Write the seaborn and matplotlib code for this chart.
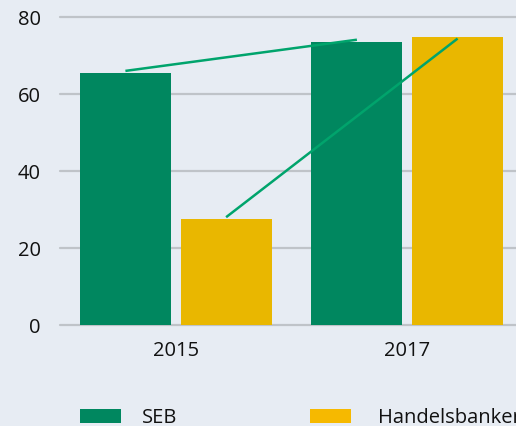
import matplotlib
matplotlib.use("Agg")
import matplotlib.pyplot as plt
from matplotlib.patches import Rectangle
import seaborn as sns
import pandas as pd

years = ["2015", "2017"]
banks = ["SEB", "Handelsbanken"]
seb_values = [65.5, 73.5]
hb_values = [27.6, 74.8]
seb_line = [66.0, 74.1]
hb_line = [28.0, 74.4]
y_ticks = [0, 20, 40, 60, 80]

colors = {"SEB": "#00875f", "Handelsbanken": "#e9b700"}
legend_colors = {"SEB": "#00875f", "Handelsbanken": "#f6b900"}
line_color = "#00a46c"
bg = "#e7ecf3"

sns.set_theme(style="white")
plt.rcParams["font.family"] = ["Open Sans", "DejaVu Sans"]

df = pd.DataFrame({
    "year": years * 2,
    "bank": [banks[0]] * 2 + [banks[1]] * 2,
    "value": seb_values + hb_values,
})

W, H = 516, 427
fig = plt.figure(figsize=(W / 100, H / 100), dpi=100, facecolor=bg)
ax = fig.add_axes([60 / W, (H - 326) / H, 463 / W, 308 / H])
ax.set_facecolor(bg)

sns.barplot(data=df, x="year", y="value", hue="bank", hue_order=banks,
            order=years, palette=colors, width=0.87, gap=0.095,
            saturation=1, ax=ax, legend=False, errorbar=None, linewidth=0)

# lines through bar centres
for cont, vals in zip(ax.containers, [seb_line, hb_line]):
    xs = [b.get_x() + b.get_width() / 2 for b in cont]
    ax.plot(xs, vals, color=line_color, lw=1.8, solid_capstyle="butt", zorder=5)

ax.set_xlim(-0.5, 1.5)
ax.set_ylim(0, 80)
ax.set_yticks(y_ticks)
ax.set_xlabel("")
ax.set_ylabel("")
for s in ax.spines.values():
    s.set_visible(False)
ax.set_axisbelow(True)
ax.yaxis.grid(True, color="#bfc3c8", lw=1.6)
for gl in ax.yaxis.get_gridlines():
    gl.set_clip_on(False)
ax.tick_params(axis="y", length=0, pad=14, labelsize=14.5, labelcolor="#111111")
ax.tick_params(axis="x", length=0, pad=11, labelsize=14.5, labelcolor="#111111")

# legend (manual, to match the reference's fixed column positions)
patch_x = [80, 310]
text_x = [142, 378]
for bank, px, tx in zip(banks, patch_x, text_x):
    fig.add_artist(Rectangle((px / W, 1 - 424 / H), 41 / W, 14 / H,
                             transform=fig.transFigure, color=legend_colors[bank], lw=0))
    fig.text(tx / W, 1 - 423 / H, bank, ha="left", va="baseline",
             fontsize=14.5, color="#111111")

fig.savefig("out.png", dpi=100, facecolor=bg)
